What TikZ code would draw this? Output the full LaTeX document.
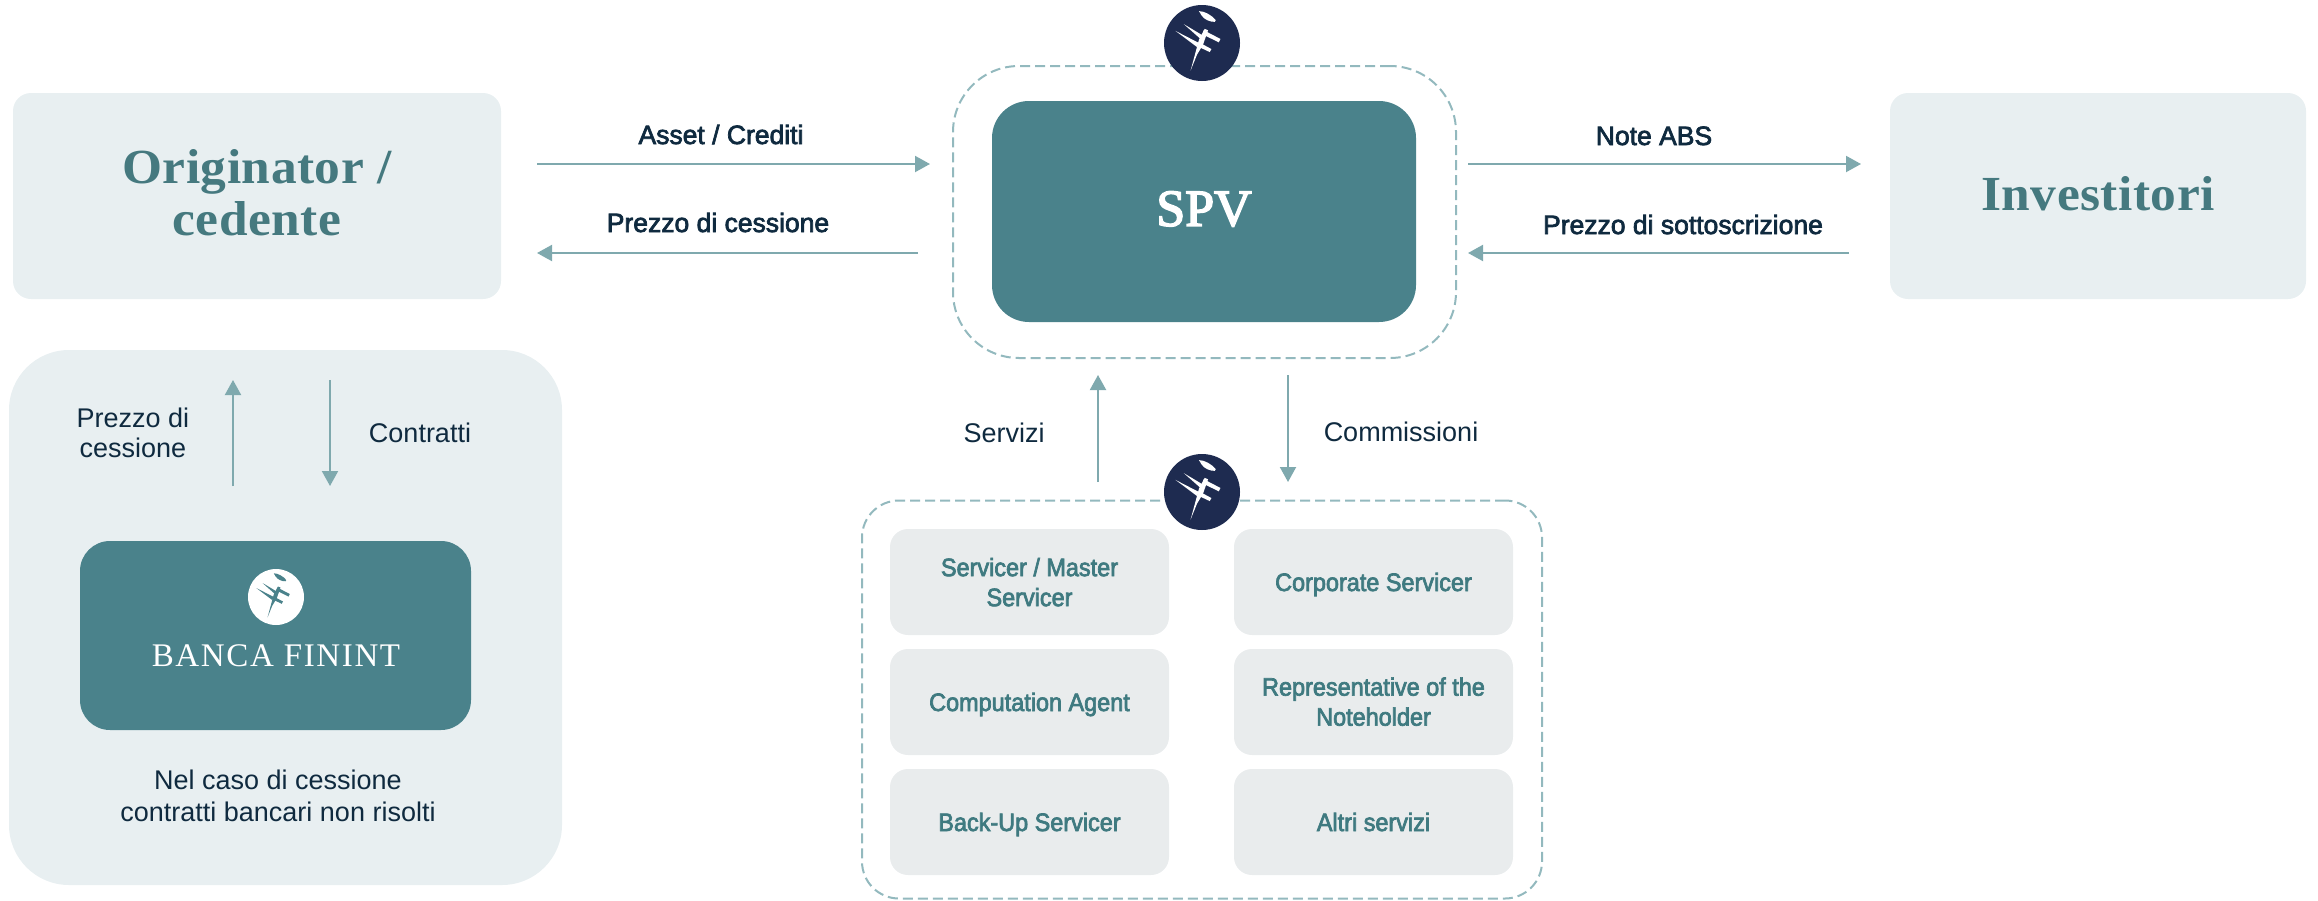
\documentclass[tikz,border=0pt]{standalone}
\usepackage{fontspec}
\usetikzlibrary{arrows.meta}
\setmainfont{Liberation Sans}
\newfontfamily\greyfont[FakeStretch=0.93]{Liberation Sans}
\newfontfamily\ttlfont[FakeStretch=1.05,LetterSpace=1]{Liberation Serif}
\newfontfamily\spvfont{Liberation Serif}
\newfontfamily\bancafont[LetterSpace=5]{Liberation Serif}
\newcommand{\mystrut}{\vrule height 24pt depth 6pt width 0pt\relax}
\definecolor{tealbox}{HTML}{4A828B}
\definecolor{lightbox}{HTML}{E8EFF1}
\definecolor{greybox}{HTML}{E9ECED}
\definecolor{arrowc}{HTML}{7FA9AE}
\definecolor{dashc}{HTML}{93B9BE}
\definecolor{navy}{HTML}{1E2B50}
\definecolor{inkc}{HTML}{0F2A3F}
\definecolor{tealtext}{HTML}{3F7A80}
\definecolor{titlec}{HTML}{45797F}
\tikzset{
  bx/.style={rectangle,inner sep=0pt,align=center},
  struts/.style={execute at begin node=\mystrut,execute at end node=\mystrut},
  heavy/.style={execute at begin node={\mystrut\special{pdf:code q 2 Tr 0.7 w}},execute at end node={\special{pdf:code Q}\mystrut}},
  lightb/.style={bx,fill=lightbox,rounded corners=18pt},
  greyb/.style={bx,fill=greybox,rounded corners=18pt,minimum width=279pt,minimum height=106pt},
  greyt/.style={inner sep=0pt,align=center,heavy,text=tealtext,font=\greyfont\fontsize{25.2}{30}\selectfont},
  dashb/.style={bx,draw=dashc,line width=2pt,dash pattern=on 10pt off 5pt},
  flow/.style={draw=arrowc,line width=2pt,-{Triangle[length=15pt,width=16pt]}},
  lab/.style={inner sep=0pt,struts,align=center,text=inkc,font=\fontsize{27}{30}\selectfont},
  labm/.style={inner sep=0pt,heavy,align=center,text=inkc,font=\fontsize{26.5}{30}\selectfont},
  logodisc/.style={circle,inner sep=0pt},
  logomark/.pic={
    \fill[#1] (-9,-95) .. controls (8,-95) and (30,-82) .. (41,-68) -- (38,-63) .. controls (25,-62) and (5,-70) .. (-2,-83) -- cycle;
    \fill[#1] (-54,-56) -- (3,-22) -- (-2,-10) -- cycle;
    \fill[#1] (-79,-36) -- (-9,0) -- (-15,12) -- cycle;
    \fill[#1] (-34,82) -- (-9,-10) -- (8,-42) -- (18,-38) -- (3,5) -- (-15,35) -- cycle;
    \fill[#1] (5,-38) -- (55,-12) -- (50,-2) -- (1,-26) -- cycle;
    \fill[#1] (-9,-2) -- (28,18) -- (23,27) -- (-13,10) -- cycle;
  }
}
\begin{document}
\begin{tikzpicture}[x=1pt,y=-1pt]
\useasboundingbox (0,0) rectangle (2318,900);
% panels
\node[lightb,minimum width=488pt,minimum height=206pt] (orig) at (257,196) {};
\node[inner sep=0pt,align=center,font=\ttlfont\bfseries\fontsize{49}{52}\selectfont,text=titlec] (origt) at (257,193) {Originator /\\cedente};
\node[lightb,minimum width=416pt,minimum height=206pt] (inv) at (2098,196) {};
\node[inner sep=0pt,align=center,font=\ttlfont\bfseries\fontsize{49}{52}\selectfont,text=titlec] (invt) at (2098,194) {Investitori};
\node[lightb,rounded corners=60pt,minimum width=553pt,minimum height=535pt] (panel) at (285.5,617.5) {};
\node[bx,fill=tealbox,rounded corners=30pt,minimum width=391pt,minimum height=189pt] (banca) at (275.5,635.5) {};
\node[logodisc,fill=white,minimum size=56pt] (logoB) at (276,597) {};
\pic[scale=0.25] at (logoB) {logomark=tealbox};
\node[inner sep=0pt,text=white,font=\bancafont\fontsize{33}{36}\selectfont] (bancat) at (276,656) {BANCA FININT};
\node[lab,font=\fontsize{27}{32}\selectfont] (note) at (278,799) {Nel caso di cessione\\contratti bancari non risolti};
% SPV
\node[dashb,rounded corners=66pt,minimum width=503pt,minimum height=292pt] (spvd) at (1204.5,212) {};
\node[bx,fill=tealbox,rounded corners=37pt,minimum width=424pt,minimum height=221pt] (spv) at (1204,211.5) {};
\node[inner sep=0pt,text=white,font=\spvfont\fontsize{52}{56}\selectfont,execute at begin node={\special{pdf:code q 2 Tr 1.6 w}},execute at end node={\special{pdf:code Q}}] (spvt) at (1204,209) {SPV};
\node[logodisc,fill=navy,minimum size=76pt] (logoT) at (1202,43) {};
\pic[scale=0.336] at (logoT) {logomark=white};
% services
\node[dashb,rounded corners=37pt,minimum width=680pt,minimum height=398pt] (svcd) at (1202,699.5) {};
\node[greyb] (s1) at (1029.5,582) {};
\node[greyb] (s2) at (1029.5,702) {};
\node[greyb] (s3) at (1029.5,822) {};
\node[greyb] (s4) at (1373.5,582) {};
\node[greyb] (s5) at (1373.5,702) {};
\node[greyb] (s6) at (1373.5,822) {};
\node[greyt] (t1) at (1029.5,585) {Servicer / Master\\Servicer};
\node[greyt] (t2) at (1029.5,702) {Computation Agent};
\node[greyt] (t3) at (1029.5,822) {Back-Up Servicer};
\node[greyt] (t4) at (1373.5,582) {Corporate Servicer};
\node[greyt] (t5) at (1373.5,704.5) {Representative of the\\Noteholder};
\node[greyt] (t6) at (1373.5,822) {Altri servizi};
\node[logodisc,fill=navy,minimum size=76pt] (logoS) at (1202,492) {};
\pic[scale=0.336] at (logoS) {logomark=white};
% labels
\node[labm] (l1) at (721,135) {Asset / Crediti};
\node[labm] (l2) at (718,223) {Prezzo di cessione};
\node[labm] (l3) at (1654,136) {Note ABS};
\node[labm] (l4) at (1683,225) {Prezzo di sottoscrizione};
\node[lab] (l5) at (133,436) {Prezzo di\\cessione};
\node[lab] (l6) at (420,433) {Contratti};
\node[lab] (l7) at (1004,433) {Servizi};
\node[lab] (l8) at (1401,432) {Commissioni};
% connector ends
\coordinate (a1s) at (537,164); \coordinate (a1e) at (930,164);
\coordinate (a2s) at (918,253); \coordinate (a2e) at (537,253);
\coordinate (a3s) at (1468,164); \coordinate (a3e) at (1861,164);
\coordinate (a4s) at (1849,253); \coordinate (a4e) at (1468,253);
\coordinate (a5s) at (233,486); \coordinate (a5e) at (233,380);
\coordinate (a6s) at (330,380); \coordinate (a6e) at (330,486);
\coordinate (a7s) at (1098,482); \coordinate (a7e) at (1098,375);
\coordinate (a8s) at (1288,375); \coordinate (a8e) at (1288,482);
\draw[flow] (a1s) -- (a1e);
\draw[flow] (a2s) -- (a2e);
\draw[flow] (a3s) -- (a3e);
\draw[flow] (a4s) -- (a4e);
\draw[flow] (a5s) -- (a5e);
\draw[flow] (a6s) -- (a6e);
\draw[flow] (a7s) -- (a7e);
\draw[flow] (a8s) -- (a8e);
\end{tikzpicture}
\end{document}
